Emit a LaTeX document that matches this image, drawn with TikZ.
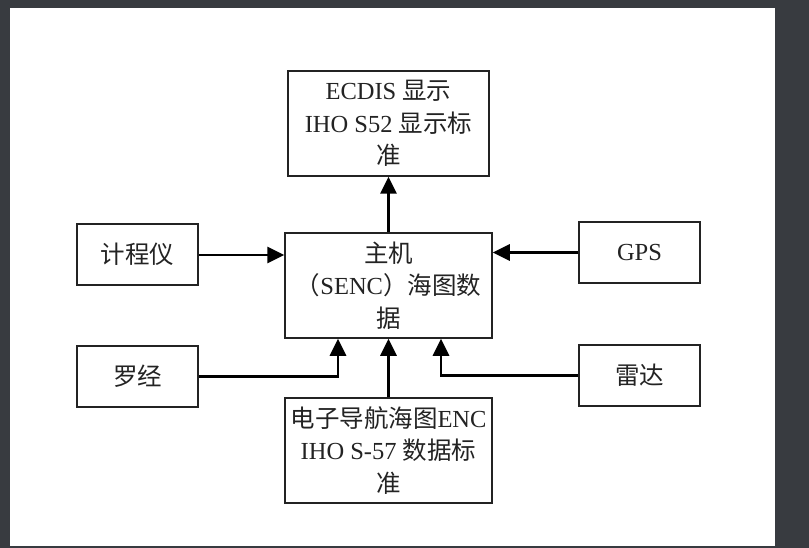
\documentclass[tikz,border=0pt]{standalone}
\usepackage{fontspec}
\setmainfont{Liberation Serif}
\newfontfamily\cjk{Noto Sans CJK SC}
\usetikzlibrary{arrows.meta}
\definecolor{frame}{RGB}{56,59,64}
\definecolor{ink}{RGB}{35,35,35}

\begin{document}
\begin{tikzpicture}[x=1pt,y=-1pt,
  blockbox/.style={draw=ink,line width=1.5pt,align=center,inner sep=0pt,
    font=\fontsize{24.5}{32.5}\selectfont,text=ink},
  bigbox/.style={blockbox,minimum width=207pt,minimum height=105pt},
  smallbox/.style={blockbox,minimum width=121pt,minimum height=61pt},
  flow/.style={draw=black,line width=2.8pt,-{Triangle[length=17pt,width=16pt]}}]
\useasboundingbox (0,0) rectangle (809,548);
\fill[frame] (0,0) rectangle (809,548);
\fill[white] (10,8) rectangle (775,546);

% boxes
\node[bigbox,minimum width=201pt] (disp) at (388.5,123.5)
  {ECDIS {\cjk 显示}\\IHO S52 {\cjk 显示标}\\{\cjk 准}};
\node[bigbox] (host) at (388.5,285.5)
  {{\cjk 主机}\\{\cjk （}SENC{\cjk ）海图数}\\{\cjk 据}};
\node[bigbox] (enc) at (388.5,450.5)
  {{\cjk 电子导航海图}ENC\\IHO S-57 {\cjk 数据标}\\{\cjk 准}};
\node[smallbox] (log) at (137.5,254.5) {\cjk 计程仪};
\node[smallbox] (gps) at (639.5,252.5) {GPS};
\node[smallbox] (compass) at (137.5,376.5) {\cjk 罗经};
\node[smallbox] (radar) at (639.5,375.5) {\cjk 雷达};

% connectors
\draw[flow] (host.north) -- (disp.south);
\draw[flow] ([yshift=-0.5pt]log.east) -- ([yshift=-0.5pt]log.east -| host.west);
\draw[flow] (gps.west) -- (gps.west -| host.east);
\draw[flow] (enc.north) -- (host.south);
\draw[flow] (compass.east) -| ([xshift=-50.5pt]host.south);
\draw[flow] (radar.west) -| ([xshift=52.5pt]host.south);
\end{tikzpicture}
\end{document}
